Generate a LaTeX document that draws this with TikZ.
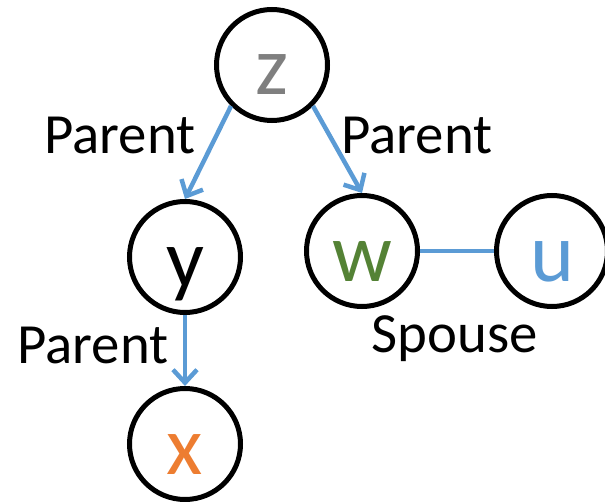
\documentclass[tikz,border=0pt]{standalone}
\usepackage{fontspec}
\setmainfont{Carlito}
\usetikzlibrary{arrows.meta}
\definecolor{zgray}{HTML}{7F7F7F}
\definecolor{wgreen}{HTML}{548235}
\definecolor{ublue}{HTML}{5B9BD5}
\definecolor{xorange}{HTML}{ED7D31}
\definecolor{linkblue}{HTML}{5B9BD5}
\tikzset{
  varnode/.style={circle, draw=black, line width=5bp, minimum size=111bp, inner sep=0pt,
    text height=60bp, text depth=0bp, font=\fontsize{84}{84}\selectfont},
  relabel/.style={anchor=base, inner sep=0pt, font=\fontsize{57}{57}\selectfont},
  link/.style={draw=linkblue, line width=4.5bp},
  parentarrow/.style={link, -{Straight Barb[length=13bp,width=24bp,line width=4.5bp]}}
}
\begin{document}
\begin{tikzpicture}[x=1bp,y=-1bp]
\useasboundingbox (0,0) rectangle (605,502);
\node[varnode, text=zgray] (z) at (272,65) {z};
\node[varnode, text=black] (y) at (185,257) {y};
\node[varnode, text=wgreen] (w) at (362,251) {w};
\node[varnode, text=ublue] (u) at (552,251) {u};
\node[varnode, text=xorange] (x) at (185,444) {x};
\draw[parentarrow] (z.south west) -- (y.north);
\draw[parentarrow] (z.south east) -- (w.north);
\draw[parentarrow] (y.south) -- (x.north);
\draw[link] (w.east) -- (u.west);
\node[relabel] (pl1) at (120,154) {Parent};
\node[relabel] (pl2) at (417,154) {Parent};
\node[relabel] (pl3) at (93,363) {Parent};
\node[relabel] (sp) at (455,352) {Spouse};
\end{tikzpicture}
\end{document}
